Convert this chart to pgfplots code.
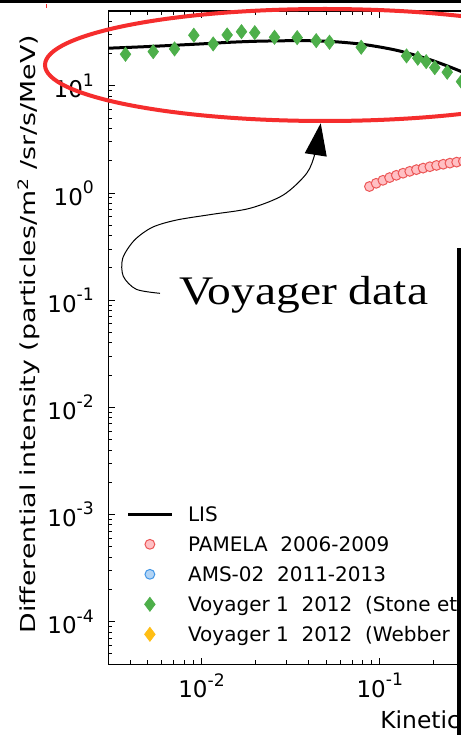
\documentclass[border=0pt]{standalone}
\usepackage{pgfplots}
\pgfplotsset{compat=1.18}
\usepackage{fontspec}
\setmainfont{DejaVu Sans}
\newfontfamily\annotfont{Liberation Serif}
\usetikzlibrary{arrows.meta}

\definecolor{vgreen}{RGB}{77,175,74}
\definecolor{pamfill}{RGB}{255,192,196}
\definecolor{pamedge}{RGB}{236,86,86}
\definecolor{amsfill}{RGB}{178,212,245}
\definecolor{amsedge}{RGB}{66,150,230}
\definecolor{webber}{RGB}{255,190,20}
\definecolor{ellred}{RGB}{245,45,45}

% exponent for the tick labels
\newcommand\expo[1]{\raisebox{0.5em}{\fontsize{8.6}{8.6}\selectfont #1}}

\begin{document}
\begin{tikzpicture}
\path[use as bounding box] (-54.15pt,-35.35pt) rectangle (176.35pt,332.15pt);
\clip (-54.15pt,-35.35pt) rectangle (176.35pt,332.15pt);
\fill[white] (-54.15pt,-35.35pt) rectangle (176.35pt,332.15pt);

\begin{axis}[
  at={(0pt,0pt)}, anchor=south west,
  scale only axis, width=403.2pt, height=326.65pt,
  xmode=log, ymode=log,
  xmin=3e-3, xmax=100, ymin=4e-5, ymax=50,
  xtick={0.01,0.1,1,10,100},
  xticklabels={10\expo{-2},10\expo{-1},10\expo{0},10\expo{1},10\expo{2}},
  ytick={1e-4,1e-3,1e-2,1e-1,1,10},
  yticklabels={10\expo{-4},10\expo{-3},10\expo{-2},10\expo{-1},10\expo{0},10\expo{1}},
  minor xtick={0.004,0.005,0.006,0.007,0.008,0.009,
    0.02,0.03,0.04,0.05,0.06,0.07,0.08,0.09,
    0.2,0.3,0.4,0.5,0.6,0.7,0.8,0.9,
    2,3,4,5,6,7,8,9,20,30,40,50,60,70,80,90},
  minor ytick={5e-5,6e-5,7e-5,8e-5,9e-5,
    2e-4,3e-4,4e-4,5e-4,6e-4,7e-4,8e-4,9e-4,
    2e-3,3e-3,4e-3,5e-3,6e-3,7e-3,8e-3,9e-3,
    2e-2,3e-2,4e-2,5e-2,6e-2,7e-2,8e-2,9e-2,
    0.2,0.3,0.4,0.5,0.6,0.7,0.8,0.9,
    2,3,4,5,6,7,8,9,20,30,40},
  ticklabel style={font=\fontsize{11.5}{13}\selectfont},
  xticklabel style={inner sep=0pt, anchor=north, yshift=-4.35pt},
  yticklabel style={inner sep=0pt, anchor=east, xshift=-7pt},
  axis line style={line width=0.75pt},
  every tick/.style={black, line width=0.5pt},
  major tick length=3.4pt, minor tick length=2pt,
  xlabel={Kinetic energy (GeV)},
  xlabel style={at={(axis description cs:0,0)}, anchor=base west,
    xshift=135.85pt, yshift=-31.85pt, inner sep=0pt,
    font=\fontsize{11.7}{14}\selectfont},
  ylabel={\scalebox{1.3}[1]{Differential intensity (particles/m\textsuperscript{2} /sr/s/MeV)}},
  every axis y label/.style={at={(axis description cs:-0.09028,0.5056)},
    rotate=90, anchor=base, inner sep=0pt,
    font=\fontsize{10.3}{12}\selectfont},
  legend style={draw=none, fill=none,
    at={(axis description cs:0.02282,0.24078)}, anchor=north west,
    inner sep=0pt, outer sep=0pt, row sep=7.7pt, column sep=7.5pt,
    font=\fontsize{10}{12}\selectfont,
    nodes={inner sep=0pt, text height=7.3pt, text depth=0pt, anchor=west}},
  legend image code/.code={\draw[mark repeat=2,mark phase=2,#1]
    plot coordinates {(0pt,0pt) (10.85pt,0pt) (21.7pt,0pt)};},
]

% local interstellar spectrum
\addplot[black, line width=1.5pt, smooth] coordinates {
  (0.00300,22.48) (0.00518,23.35) (0.00987,24.64) (0.01454,25.55)
  (0.0214,26.16) (0.0359,26.44) (0.0529,26.0) (0.0810,24.37)
  (0.1252,21.43) (0.1924,17.5) (0.287,13.6) (0.418,10.26)
};
\addlegendentry{LIS}

% PAMELA 2006-2009
\addplot[only marks, mark=*, mark size=2.45pt,
  mark options={draw=pamedge, fill=pamfill, line width=0.5pt}] coordinates {
  (0.0875,1.151) (0.0954,1.233) (0.1041,1.315) (0.1135,1.394)
  (0.1238,1.464) (0.1350,1.532) (0.1472,1.595) (0.1605,1.654)
  (0.1750,1.709) (0.1909,1.761) (0.2081,1.811) (0.2269,1.858)
  (0.2474,1.903) (0.2698,1.944) (0.2942,1.982)
};
\addlegendentry{PAMELA\ \ 2006-2009}

\addlegendimage{only marks, mark=*, mark size=2.45pt,
  mark options={draw=amsedge, fill=amsfill, line width=0.5pt}}
\addlegendentry{AMS-02\ \ 2011-2013}

% Voyager 1, Stone et al.
\addplot[only marks, mark=diamond*, mark size=3.55pt,
  mark options={draw=vgreen, fill=vgreen, line width=0.3pt}] coordinates {
  (0.003747,19.75) (0.005359,20.88) (0.007058,22.13) (0.009054,29.7)
  (0.01163,24.64) (0.01393,29.9) (0.01676,32.08) (0.0199,31.4)
  (0.02567,28.44) (0.0344,28.2) (0.04398,26.44) (0.05222,25.55)
  (0.07865,22.95) (0.1412,19.04) (0.1633,18.13) (0.182,16.85)
  (0.2034,14.81) (0.2388,13.42) (0.2872,10.97)
};
\addlegendentry{Voyager 1\ \ 2012\ \ (Stone et al. 2013)}

\addlegendimage{only marks, mark=diamond*, mark size=3.55pt,
  mark options={draw=webber, fill=webber, line width=0.3pt}}
\addlegendentry{Voyager 1\ \ 2012\ \ (Webber \& Higbie 2013)}
\end{axis}

% highlight around the Voyager points
\draw[ellred, line width=2pt] (108.35pt,299.65pt) ellipse (140pt and 28pt);

% curved pointer
\draw[line width=0.5pt, -{Triangle[length=16pt,width=11pt]}]
  plot[smooth] coordinates {(25.85pt,185.5pt) (14pt,187.5pt) (7.5pt,194pt)
  (7.2pt,203pt) (13pt,212pt) (22pt,218.5pt) (34.2pt,222.15pt) (52pt,225pt)
  (70.85pt,228pt) (87.5pt,234.65pt) (99.2pt,245.5pt) (103.5pt,256pt)
  (106.2pt,270.5pt)};

\node[anchor=base west, inner sep=0pt,
  font=\annotfont\fontsize{20.3}{24}\selectfont] at (35.5pt,179.65pt)
  {\scalebox{1.17}[1]{Voyager data}};

% frame pieces along the top and the right
\fill[black] (-54.15pt,330.65pt) rectangle (176.35pt,332.15pt);
\fill[black] (174.35pt,-35.35pt) rectangle (176.35pt,208.15pt);
\draw[ellred, line width=0.5pt] (-30.8pt,330.15pt) -- (-30.8pt,328.15pt);
\end{tikzpicture}
\end{document}
